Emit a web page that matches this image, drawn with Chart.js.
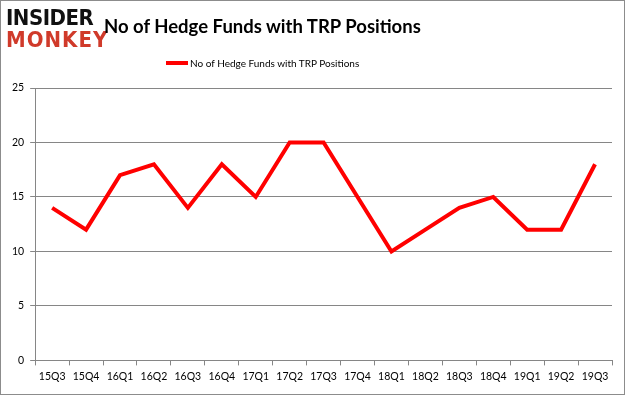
<!DOCTYPE html>
<html>
<head>
<meta charset="utf-8">
<script src="https://cdn.jsdelivr.net/npm/chart.js@4/dist/chart.umd.min.js"></script>
<style>
  html, body { margin: 0; padding: 0; background: #fff; }
  #wrap { position: relative; width: 625px; height: 395px; box-sizing: border-box; border: 1px solid #8c8c8c; overflow: hidden; }
  #chart { position: absolute; left: 0; top: 0; }
  .logo { position: absolute; left: 5px; top: 6px; font-family: "DejaVu Sans Condensed", "DejaVu Sans", sans-serif; font-weight: bold; line-height: 22px; font-size: 22px; }
  .logo .a { color: #111; letter-spacing: -0.5px; }
  .logo .b { color: #d03a2a; letter-spacing: 1px; }
  .title { position: absolute; left: 103px; top: 14px; font-family: Lato, sans-serif; font-weight: bold; font-size: 18.5px; color: #000; }
  .legend { position: absolute; left: 165px; top: 56px; font-family: Lato, sans-serif; font-size: 10px; color: #000; }
  .legend span.sw { display: inline-block; width: 22px; height: 4px; background: #ff0000; vertical-align: middle; margin-right: 2px; position: relative; top: -1px; }
</style>
</head>
<body>
<div id="wrap">
  <canvas id="chart" width="625" height="395"></canvas>
  <div class="logo"><div class="a">INSIDER</div><div class="b">MONKEY</div></div>
  <div class="title">No of Hedge Funds with TRP Positions</div>
  <div class="legend"><span class="sw"></span>No of Hedge Funds with TRP Positions</div>
</div>
<script>
const quarters = ['15Q3', '15Q4', '16Q1', '16Q2', '16Q3', '16Q4', '17Q1', '17Q2', '17Q3',
  '17Q4', '18Q1', '18Q2', '18Q3', '18Q4', '19Q1', '19Q2', '19Q3'];
const hedgeFunds = [14, 12, 17, 18, 14, 18, 15, 20, 20, 15, 10, 12, 14, 15, 12, 12, 18];
const yTicks = [0, 5, 10, 15, 20, 25];

const tickFont = { family: 'Lato, sans-serif', size: 10.5 };

new Chart(document.getElementById('chart').getContext('2d'), {
  type: 'line',
  data: {
    labels: quarters,
    datasets: [{
      label: 'No of Hedge Funds with TRP Positions',
      data: hedgeFunds,
      borderColor: '#ff0000',
      borderWidth: 4,
      pointRadius: 0,
      tension: 0,
      fill: false
    }]
  },
  options: {
    responsive: false,
    animation: false,
    layout: { padding: { top: 87, left: 5, right: 14, bottom: 8 } },
    plugins: { legend: { display: false }, tooltip: { enabled: false } },
    scales: {
      x: {
        offset: true,
        grid: { offset: true, drawOnChartArea: false, drawTicks: true, tickLength: 5, color: '#868686' },
        border: { color: '#868686' },
        ticks: { color: '#000', font: tickFont, maxRotation: 0, autoSkip: false, padding: 5 }
      },
      y: {
        min: 0,
        max: 25,
        afterBuildTicks: axis => { axis.ticks = yTicks.map(v => ({ value: v })); },
        grid: { color: '#868686', tickLength: 5 },
        border: { color: '#868686' },
        ticks: { color: '#000', font: tickFont, padding: 6 }
      }
    }
  }
});
</script>
</body>
</html>
